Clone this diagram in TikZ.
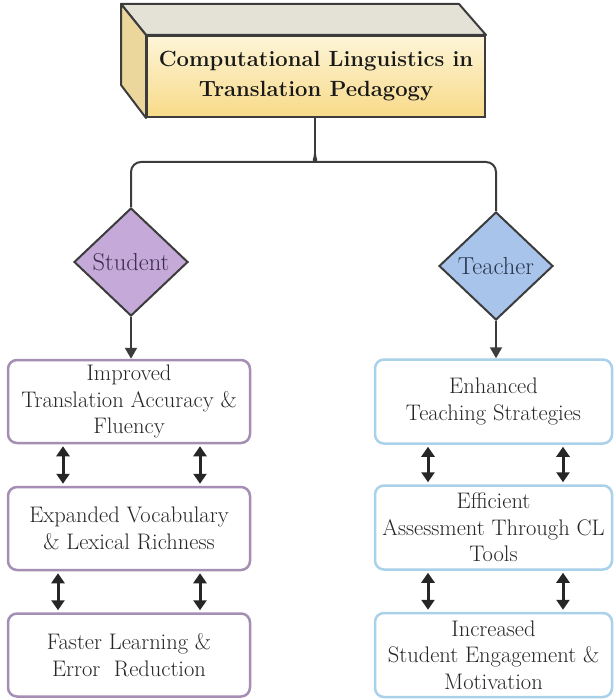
\documentclass[tikz,border=0pt]{standalone}
\usetikzlibrary{shapes.geometric,arrows.meta}
\definecolor{edgegray}{HTML}{3C3C3C}
\definecolor{topface}{HTML}{E4E2D6}
\definecolor{sideface}{HTML}{EBD69C}
\definecolor{frontlight}{HTML}{FDF5D8}
\definecolor{frontdark}{HTML}{F8DA88}
\definecolor{stufill}{HTML}{C4A9D9}
\definecolor{teafill}{HTML}{A9C4EA}
\definecolor{stuedge}{HTML}{A68DB4}
\definecolor{teaedge}{HTML}{A9D1EA}
\definecolor{boxtext}{HTML}{262626}
\definecolor{stutext}{HTML}{3A2D4E}
\definecolor{teatext}{HTML}{26344C}
\tikzset{
  conn/.style={draw=edgegray, line width=2pt},
  down/.style={draw=edgegray, line width=2pt, -{Triangle[width=12pt,length=11pt]}},
  dbl/.style={draw=black!85, line width=3pt, {Triangle[width=13pt,length=10pt]}-{Triangle[width=13pt,length=10pt]}, shorten >=2pt, shorten <=2pt},
  rolebox/.style={diamond, draw=edgegray, line width=2pt, inner sep=0pt,
    minimum width=114pt, minimum height=108pt, font=\fontsize{24.5}{28}\selectfont},
  outcome/.style={rectangle, rounded corners=9pt, line width=2.5pt, fill=white,
    align=center, inner sep=0pt, text=boxtext, font=\fontsize{22.5}{26.5}\selectfont},
  stubox/.style={outcome, draw=stuedge, minimum width=242pt, minimum height=83pt},
  teabox/.style={outcome, draw=teaedge, minimum width=237pt, minimum height=84pt}
}
\begin{document}
\begin{tikzpicture}[x=1pt, y=-1pt]
\useasboundingbox (0,0) rectangle (614,700);

% title block drawn as a box in perspective
\node[draw=edgegray, line width=2pt, top color=frontlight, bottom color=frontdark,
  minimum width=338pt, minimum height=81pt, align=center, inner sep=0pt,
  text=black!90, font=\bfseries\fontsize{22}{30}\selectfont]
  (cube) at (316,76.5) {Computational Linguistics in\\Translation Pedagogy};
\filldraw[fill=topface, draw=edgegray, line width=2pt, line join=round]
  (cube.north west) -- ++(-25,-31) -- ++(338,0) -- (cube.north east) -- cycle;
\filldraw[fill=sideface, draw=edgegray, line width=2pt, line join=round]
  (cube.north west) -- ++(-25,-31) -- ++(0,81) -- (cube.south west) -- cycle;

% the two roles
\node[rolebox, fill=stufill, text=stutext] (stu) at (131,262) {Student};
\node[rolebox, fill=teafill, text=teatext] (tea) at (496,266) {Teacher};

% student outcomes
\node[stubox] (s1) at (129,401.5) {Improved\\Translation Accuracy \&\\Fluency};
\node[stubox] (s2) at (129,528.5) {Expanded Vocabulary\\\& Lexical Richness};
\node[stubox] (s3) at (129,655) {Faster Learning \&\\Error~~Reduction};

% teacher outcomes
\node[teabox] (t1) at (493.5,401.5) {Enhanced\\Teaching Strategies};
\node[teabox] (t2) at (493.5,527.5) {Efficient\\Assessment Through CL\\Tools};
\node[teabox] (t3) at (493.5,655) {Increased\\Student Engagement \&\\Motivation};

% branching connector below the title block
\coordinate (brk) at (315,154);
\coordinate (hb) at (0,162);
\draw[conn] (cube.south -| brk) -- (brk);
\draw[conn, rounded corners=10pt] (brk) to[out=-90,in=0] (307,162) -- (stu.north |- hb) -- (stu.north);
\draw[conn, rounded corners=10pt] (brk) to[out=-90,in=180] (323,162) -- (tea.north |- hb) -- (tea.north);

% role to first outcome
\draw[down] (stu.south) -- (stu.south |- s1.north);
\draw[down] (tea.south) -- (tea.south |- t1.north);

% links between successive outcomes
\draw[dbl] ([xshift=-66pt]s1.south) -- ([xshift=-66pt]s2.north);
\draw[dbl] ([xshift=71pt]s1.south) -- ([xshift=71pt]s2.north);
\draw[dbl] ([xshift=-71pt]s2.south) -- ([xshift=-71pt]s3.north);
\draw[dbl] ([xshift=71pt]s2.south) -- ([xshift=71pt]s3.north);
\draw[dbl] ([xshift=-65.5pt]t1.south) -- ([xshift=-65.5pt]t2.north);
\draw[dbl] ([xshift=69.5pt]t1.south) -- ([xshift=69.5pt]t2.north);
\draw[dbl] ([xshift=-65.5pt]t2.south) -- ([xshift=-65.5pt]t3.north);
\draw[dbl] ([xshift=69.5pt]t2.south) -- ([xshift=69.5pt]t3.north);
\end{tikzpicture}
\end{document}
